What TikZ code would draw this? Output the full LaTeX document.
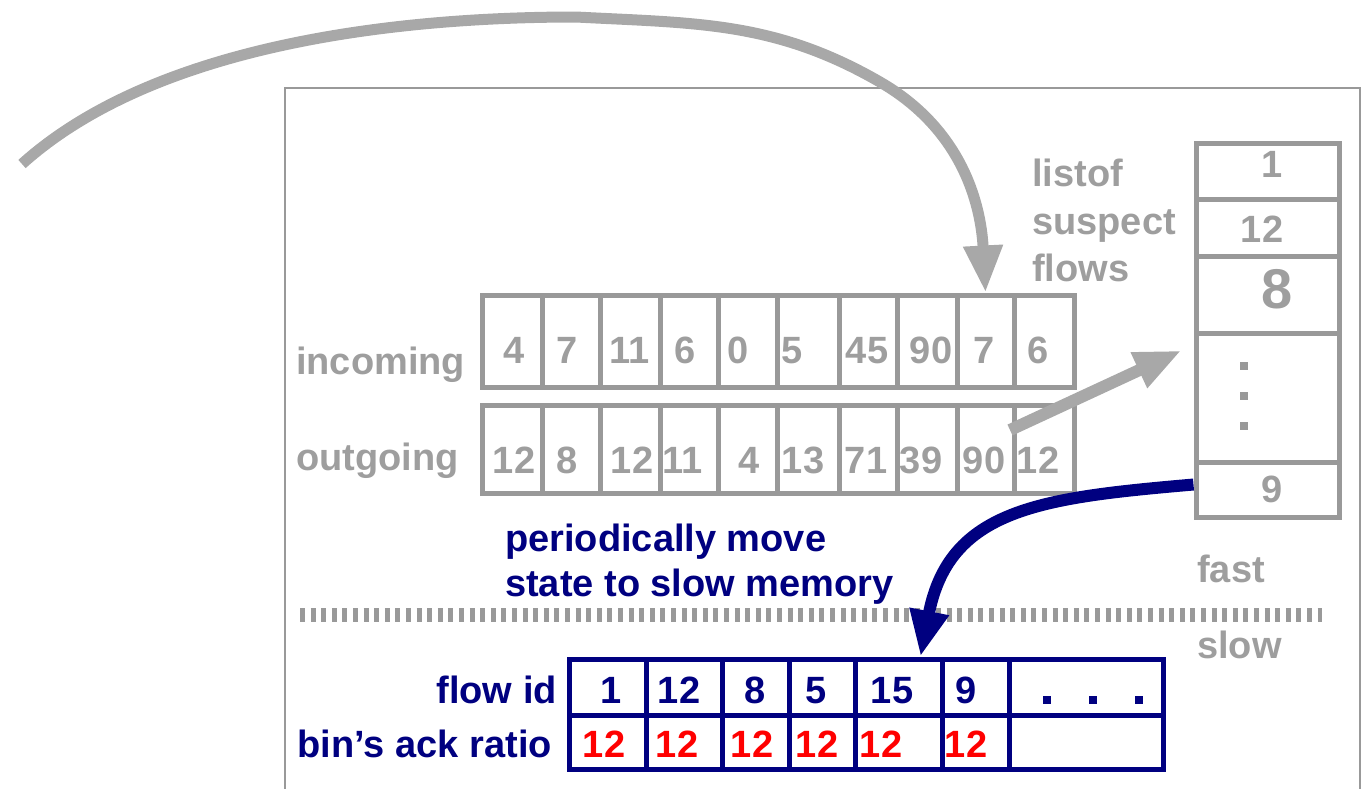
\documentclass[tikz,border=0pt]{standalone}
\usepackage{fontspec}
\setmainfont{Liberation Sans}
\usetikzlibrary{arrows.meta,calc}
\definecolor{boxgray}{HTML}{999999}
\definecolor{txtgray}{HTML}{9E9E9E}
\definecolor{arrgray}{HTML}{A8A8A8}
\definecolor{navy}{HTML}{000080}
\begin{document}
\begin{tikzpicture}[x=1pt,y=1pt,
  lbl/.style={inner sep=0pt, font=\bfseries\fontsize{38}{44}\selectfont},
  graytxt/.style={lbl, text=txtgray},
  bluetxt/.style={lbl, text=navy},
  redtxt/.style={lbl, text=red},
  gcell/.style={draw=boxgray, line width=5pt, inner sep=0pt},
  bcell/.style={draw=navy, line width=5pt, inner sep=0pt},
  dotsq/.style={inner sep=0pt, minimum size=8pt},
  grayarrow/.style={draw=arrgray, line width=11pt, -{Triangle[length=47pt,width=37pt]}},
  bluearrow/.style={draw=navy, line width=12pt, -{Triangle[length=46pt,width=37pt]}}]
\useasboundingbox (0,0) rectangle (1364,-788);

% frame around the router
\draw[boxgray, line width=2.5pt] (285,-800) -- (285,-88) -- (1360,-88) -- (1360,-800);

% incoming sample buffer
\foreach \i/\l/\r/\c/\v in {1/482/542/514/4, 2/542/600/567/7, 3/600/660/630/11,
    4/660/718/685/6, 5/718/777/738/0, 6/777/839/792/5, 7/839/897/867/45,
    8/897/957/931/90, 9/957/1014/984/7, 10/1014/1074/1038/6}{
  \node[gcell, minimum width={(\r-\l)*1pt}, minimum height=92pt] (in\i) at ({(\l+\r)/2},-341) {};
  \node[graytxt, anchor=base] (inv\i) at (\c,-363) {\v};
}
% outgoing sample buffer
\foreach \i/\l/\r/\c/\v in {1/482/542/514/12, 2/542/600/567/8, 3/600/660/632/12,
    4/660/718/683/11, 5/718/777/749/4, 6/777/839/803/13, 7/839/897/866/71,
    8/897/957/921/39, 9/957/1014/984/90, 10/1014/1074/1038/12}{
  \node[gcell, minimum width={(\r-\l)*1pt}, minimum height=88pt] (out\i) at ({(\l+\r)/2},-449) {};
  \node[graytxt, anchor=base] (outv\i) at (\c,-473) {\v};
}
\node[graytxt, anchor=base west] (inlbl) at (296,-374) {incoming};
\node[graytxt, anchor=base west] (outlbl) at (296,-470) {outgoing};

% list of suspect flows
\foreach \i/\t/\b in {1/143/199, 2/199/256, 3/256/333, 4/333/462, 5/462/517}{
  \node[gcell, minimum width=143pt, minimum height={(\b-\t)*1pt}] (st\i) at (1267.5,{-(\t+\b)/2}) {};
}
\node[graytxt, anchor=base] (stv1) at (1272,-177) {1};
\node[graytxt, anchor=base] (stv2) at (1262,-242) {12};
\node[graytxt, anchor=base, font=\bfseries\fontsize{56}{60}\selectfont] (stv3) at (1277,-308) {8};
\node[graytxt, anchor=base] (stv5) at (1272,-502) {9};
\foreach \y [count=\k] in {-366,-396,-426}{
  \node[dotsq, fill=boxgray] (sdot\k) at (1244,\y) {};
}
\node[graytxt, anchor=base west] (lst1) at (1032,-186) {listof};
\node[graytxt, anchor=base west] (lst2) at (1032,-234) {suspect};
\node[graytxt, anchor=base west] (lst3) at (1032,-281) {flows};

% fast / slow memory boundary
\draw[boxgray, line width=14pt, dash pattern=on 5pt off 5.6pt] (300,-615) -- (1322,-615);
\node[graytxt, anchor=base west] (fast) at (1197,-582) {fast};
\node[graytxt, anchor=base west] (slow) at (1197,-658) {slow};

% slow memory table
\foreach \i/\l/\r/\a/\b in {1/569/646/611/604, 2/646/722/679/677, 3/722/789/755/752,
    4/789/855/816/817, 5/855/942/892/881, 6/942/1009/966/966}{
  \node[bcell, minimum width={(\r-\l)*1pt}, minimum height=56pt] (f\i) at ({(\l+\r)/2},-687) {};
  \node[bcell, minimum width={(\r-\l)*1pt}, minimum height=54pt] (r\i) at ({(\l+\r)/2},-742) {};
  \node[redtxt, anchor=base] (rv\i) at (\b,-757) {12};
}
\node[bcell, minimum width=154pt, minimum height=56pt] (f7) at (1086,-687) {};
\node[bcell, minimum width=154pt, minimum height=54pt] (r7) at (1086,-742) {};
\node[bluetxt, anchor=base] (fv1) at (611,-703) {1};
\node[bluetxt, anchor=base] (fv2) at (679,-703) {12};
\node[bluetxt, anchor=base] (fv3) at (755,-703) {8};
\node[bluetxt, anchor=base] (fv4) at (816,-703) {5};
\node[bluetxt, anchor=base] (fv5) at (892,-703) {15};
\node[bluetxt, anchor=base] (fv6) at (966,-703) {9};
\foreach \x [count=\k] in {1047,1093,1139}{
  \node[dotsq, fill=navy] (fdot\k) at (\x,-700) {};
}
\node[bluetxt, anchor=base east] (fidlbl) at (557,-703) {flow id};
\node[bluetxt, anchor=base east] (ratlbl) at (552,-757) {bin’s ack ratio};
\node[bluetxt, anchor=base west] (note1) at (505,-551) {periodically move};
\node[bluetxt, anchor=base west] (note2) at (505,-596) {state to slow memory};

% connectors
\coordinate (feed) at (22,-164);
\draw[grayarrow] (feed) to[out=42,in=180,looseness=0.8] (576,-17)
  to[out=-3,in=150] (880,-82) to[out=-30,in=93] (in9.north);
\coordinate (suspect) at (1010,-430);
\draw[grayarrow, line width=12pt, -{Triangle[length=47pt,width=36pt]}]
  (suspect) -- ($(st4.north west)+(-12,-20)$);
\draw[bluearrow] ($(st5.west)+(0,5)$) to[out=185,in=79,looseness=1.2] ($(f5.north)+(22,0)$);
\end{tikzpicture}
\end{document}
